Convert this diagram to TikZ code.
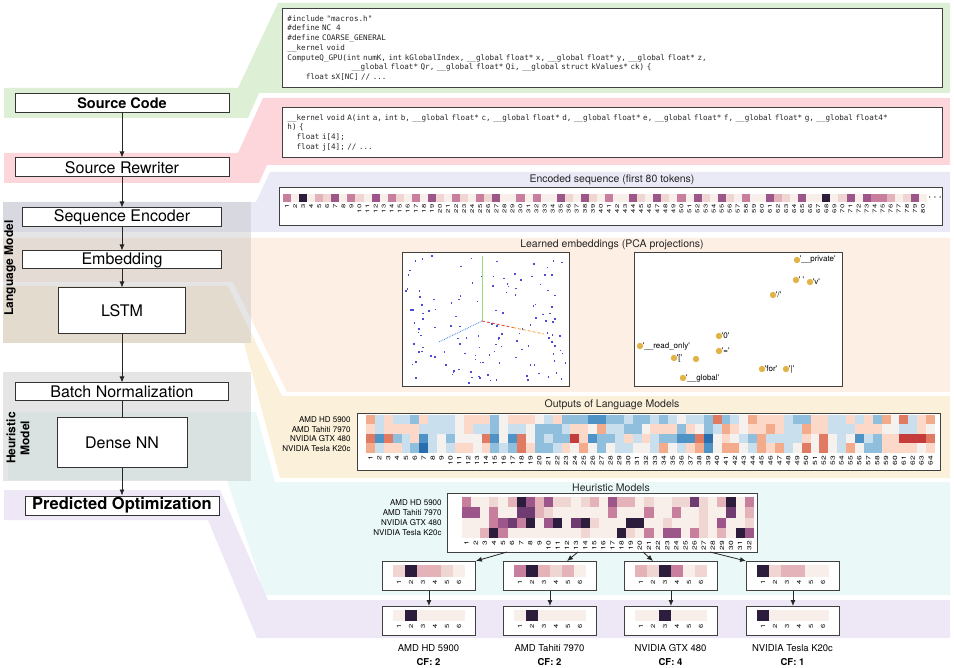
\documentclass[tikz,border=0pt]{standalone}
\usepackage{fontspec}
\setmainfont{TeX Gyre Heros}
\setmonofont{DejaVu Sans Mono}
\usetikzlibrary{arrows.meta}

\definecolor{bandgreen}{HTML}{DDEFD5}
\definecolor{bandpink}{HTML}{FCD6DB}
\definecolor{bandlav}{HTML}{EAE9F6}
\definecolor{bandpeach}{HTML}{FDEFE3}
\definecolor{bandtan}{HTML}{FBF0D9}
\definecolor{bandcyan}{HTML}{EBF8F8}
\definecolor{bandpurple}{HTML}{EDE7F6}
\definecolor{pu0}{HTML}{F8EEEA}
\definecolor{pu1}{HTML}{EFD6D3}
\definecolor{pu2}{HTML}{E4B3B9}
\definecolor{pu3}{HTML}{C87F9D}
\definecolor{pu4}{HTML}{9C5689}
\definecolor{pu5}{HTML}{6E3C71}
\definecolor{pu6}{HTML}{2C1D3C}
\definecolor{rb0}{HTML}{2A6EAE}
\definecolor{rb1}{HTML}{4F93C6}
\definecolor{rb2}{HTML}{8FBFDD}
\definecolor{rb3}{HTML}{C9DFED}
\definecolor{rb4}{HTML}{F4F1EF}
\definecolor{rb5}{HTML}{FBD8C7}
\definecolor{rb6}{HTML}{F4AB8C}
\definecolor{rb7}{HTML}{E07A63}
\definecolor{rb8}{HTML}{C43C3C}
\definecolor{dotblue}{HTML}{4B4BD6}
\definecolor{dotorange}{HTML}{E2B346}
\definecolor{axgreen}{HTML}{9BE07A}
\definecolor{axred}{HTML}{E8403A}
\definecolor{axorange}{HTML}{F5A033}
\definecolor{axblue}{HTML}{3C7DE6}

\newcommand\stagefont{\fontsize{16}{18}\selectfont}
\newcommand\titlefont{\fontsize{10.5}{12}\selectfont}
\newcommand\labfont{\fontsize{8}{9}\selectfont}
\newcommand\numfont{\fontsize{6}{7}\selectfont}
\newcommand\tagfont{\fontsize{8}{9}\selectfont}
\newcommand\gpufont{\fontsize{9.5}{11}\selectfont}
\newcommand\codefont{\ttfamily\fontsize{7.6}{9.7}\selectfont}
\newcommand\pcatok[1]{\textquotesingle#1\textquotesingle}
\newlength\cw
\setlength\cw{4.575pt}

\begin{document}
\begin{tikzpicture}
[x=1pt,y=-1pt,thick,%
  >={Latex[length=6pt,width=5pt]},%
  every node/.style={inner sep=0pt},%
  stage/.style={draw=black!80,fill=white,line width=1pt,font=\stagefont},%
  panel/.style={draw=black!75,fill=white,line width=0.9pt,anchor=north west},%
  title/.style={font=\titlefont,text=black!85},%
  rowlab/.style={font=\labfont,anchor=east},%
  num/.style={font=\numfont,rotate=90,xscale=1.4,anchor=east},%
  tag/.style={font=\tagfont,anchor=west},%
  conn/.style={->,line width=0.8pt,black!85}]
\useasboundingbox (0,0) rectangle (954,668);
\fill[white] (0,0) rectangle (954,668);

\fill[bandgreen] (4,88) -- (238,88) -- (278,3) -- (950,3) -- (950,93) -- (259,93) -- (248,118) -- (4,118) -- cycle;
\fill[bandpink] (4,153) -- (238,153) -- (263,98) -- (950,98) -- (950,165) -- (267,165) -- (259,183) -- (4,183) -- cycle;
\fill[bandlav] (3,202) -- (256,202) -- (270,172) -- (950,172) -- (950,232) -- (3,232) -- cycle;
\fill[bandpeach] (3,238) -- (950,238) -- (950,392) -- (287,392) -- (233,282) -- (3,282) -- cycle;
\fill[bandtan] (3,286) -- (228,286) -- (282,396) -- (950,396) -- (950,478) -- (280,478) -- (244,343) -- (3,343) -- cycle;
\fill[bandcyan] (8,412) -- (256,412) -- (275,482) -- (950,482) -- (950,595) -- (265,595) -- (227,480) -- (8,480) -- cycle;
\fill[bandpurple] (4,490) -- (220,490) -- (268,600) -- (950,600) -- (950,638) -- (257,638) -- (208,520) -- (4,520) -- cycle;
\fill[gray!50,fill opacity=0.4] (3,202) rectangle (251,343);
\fill[gray!50,fill opacity=0.4] (3,372) rectangle (251,481);

\node[rotate=90,font=\bfseries\fontsize{12}{13}\selectfont] (lmlab) at (10,268) {Language Model};
\node[rotate=90,align=center,font=\bfseries\fontsize{12}{14}\selectfont] (hmlab) at (18,438) {Heuristic\\Model};

\node[stage,minimum width=214,minimum height=19,font=\bfseries\fontsize{14.5}{16}\selectfont] (src) at (122,103.5) {Source Code};
\node[stage,minimum width=214,minimum height=19] (rew) at (122,167.5) {Source Rewriter};
\node[stage,minimum width=199,minimum height=19] (enc) at (122,217.5) {Sequence Encoder};
\node[stage,minimum width=199,minimum height=18] (emb) at (122,260) {Embedding};
\node[stage,minimum width=127,minimum height=46] (lstm) at (122,311) {LSTM};
\node[stage,minimum width=213,minimum height=18] (bn) at (122,392) {Batch Normalization};
\node[stage,minimum width=130,minimum height=50] (dnn) at (122,443) {Dense NN};
\node[stage,minimum width=194,minimum height=19,font=\bfseries\fontsize{16.5}{18}\selectfont] (pred) at (122,505.5) {Predicted Optimization};
\draw[conn] (src) -- (rew);
\draw[conn] (rew) -- (enc);
\draw[conn] (enc) -- (emb);
\draw[conn] (emb) -- (lstm);
\draw[conn] (lstm) -- (bn);
\draw[line width=0.8pt,black!85] (bn) -- (dnn);
\draw[conn] (dnn) -- (pred);

\node[panel,minimum width=660,minimum height=79,text width=650,inner xsep=5pt,align=left,font=\codefont,text=black!85] (code1) at (282,8)
  {\#include "macros.h"\\
   \#define NC\ \ 4\\
   \#define COARSE\_GENERAL\\
   \_\_kernel void\\
   ComputeQ\_GPU(int numK, int kGlobalIndex, \_\_global float* x, \_\_global float* y, \_\_global float* z,\\
   \hspace*{14\cw}\_\_global float* Qr, \_\_global float* Qi, \_\_global struct kValues* ck) \{\\
   \hspace*{4\cw}float sX[NC] // ...};
\node[panel,minimum width=660,minimum height=50,text width=650,inner xsep=5pt,align=left,font=\codefont,text=black!85] (code2) at (282,107)
  {\_\_kernel void A(int a, int b, \_\_global float* c, \_\_global float* d, \_\_global float* e, \_\_global float* f, \_\_global float* g, \_\_global float4*\\
   h) \{\\
   \hspace*{2\cw}float i[4];\\
   \hspace*{2\cw}float j[4]; // ...};

\node[title] (enctitle) at (612,180) {Encoded sequence (first 80 tokens)};
\node[panel,minimum width=663,minimum height=38] (encbox) at (279,187) {};
\foreach \v [count=\i] in {3,0,6,0,2,1,4,0,3,1,0,4,0,3,1,0,3,0,4,1,0,3,1,0,3,1,4,0,0,3,0,3,0,0,4,1,0,4,1,0,3,0,0,4,1,0,4,1,0,3,0,4,1,0,4,1,0,3,0,0,4,2,1,0,4,0,0,6,0,1,4,0,4,3,3,2,0,1,4,0}{
  \fill[fill=pu\v] ({283+8.05*(\i-1)},194) rectangle ++(8.05,8);
  \node[num,font=\fontsize{5.5}{6}\selectfont] (encn\i) at ({283+8.05*(\i-0.5)},204) {\i};
}
\node[font=\fontsize{13}{13}\selectfont] (encdots) at (935,198) {$\cdots$};

\node[title] (embtitle) at (612,245) {Learned embeddings (PCA projections)};
\node[panel,minimum width=167,minimum height=134] (pcaL) at (402,252) {};
\node[panel,minimum width=208,minimum height=134] (pcaR) at (634,252) {};
\pgfmathsetseed{3}
\foreach \k in {1,...,135}{
  \pgfmathsetmacro\px{405+161*rnd}
  \pgfmathsetmacro\py{255+127*rnd}
  \fill[dotblue] (\px,\py) rectangle ++(1.6,1.6);
}
\coordinate (pcaO) at (482,321);
\coordinate (pcaG) at (482,256);
\coordinate (pcaM) at (513,327.5);
\coordinate (pcaR) at (544,334);
\coordinate (pcaB) at (439,342);
\draw[axgreen,line width=0.6pt] (pcaO) -- (pcaG);
\draw[axred,densely dashed,line width=0.8pt] (pcaO) -- (pcaM);
\draw[axorange,densely dashed,line width=0.8pt] (pcaM) -- (pcaR);
\draw[axblue,densely dotted,line width=0.8pt] (pcaO) -- (pcaB);
\fill[dotorange] (696,359) circle (3.2);
\foreach \x/\y/\t [count=\k] in {797/260/{\pcatok{\_\_private}}, 796/280/{\pcatok{\ }}, 810/282/{\pcatok{v}}, 773/295/{\pcatok{/}}, 719/336/{\pcatok{0}}, 640/346/{\pcatok{\_\_read\_only}}, 719/351/{\pcatok{=}}, 674/358/{\pcatok{[}}, 762/369/{\pcatok{for}}, 786/369/{\pcatok{|}}, 683/378/{\pcatok{\_\_global}}}{
  \fill[dotorange] (\x,\y) circle (3.2);
  \node[tag] (wd\k) at ({\x+2.5},\y) {\t};
}

\node[title] (outtitle) at (612,405) {Outputs of Language Models};
\node[panel,minimum width=583,minimum height=57] (outbox) at (357,413) {};
\foreach \vals [count=\r] in {%
  {6,3,5,3,3,2,5,3,3,3,4,5,5,5,2,4,5,5,5,4,3,5,2,2,2,1,1,2,2,3,2,2,3,2,3,4,3,3,2,7,2,3,4,6,5,5,5,3,2,2,5,5,3,3,5,3,5,2,6,4,7,3,5,6},
  {5,3,5,5,5,5,3,3,3,3,4,5,3,3,2,4,3,3,4,2,2,2,3,5,5,4,6,3,3,2,2,4,5,5,5,2,5,4,2,3,6,5,4,5,5,6,5,3,3,6,5,5,3,3,3,5,5,5,4,4,3,3,5,4},
  {7,1,7,2,3,5,1,3,4,2,4,4,4,7,1,4,1,7,4,2,3,2,2,8,5,1,2,2,3,5,3,5,3,2,2,1,1,7,0,4,5,4,3,2,6,3,3,3,3,5,4,7,4,3,4,1,3,2,5,5,8,8,8,7},
  {6,3,5,5,3,2,0,3,4,3,5,5,4,5,2,3,2,7,5,2,2,3,5,4,6,4,2,4,3,3,4,4,3,6,4,3,5,6,1,4,6,6,4,3,6,5,6,3,4,7,4,7,4,3,6,4,2,2,5,5,5,5,4,5}}{
  \foreach \v [count=\i] in \vals
    \fill[fill=rb\v] ({366+8.89*(\i-1)},{415+9.5*(\r-1)}) rectangle ++(8.89,9.5);
}
\foreach \g [count=\r] in {AMD HD 5900,AMD Tahiti 7970,NVIDIA GTX 480,NVIDIA Tesla K20c}
  \node[rowlab] (og\r) at (351,{410.25+9.5*\r}) {\g};
\foreach \i in {1,...,64}
  \node[num] (on\i) at ({366+8.89*(\i-0.5)},455.5) {\i};

\node[title] (hmtitle) at (611,488) {Heuristic Models};
\node[panel,minimum width=310,minimum height=59] (hm) at (447,493) {};
\foreach \vals [count=\r] in {%
  {3,0,0,1,0,2,6,4,2,4,1,1,0,1,2,0,4,2,2,0,1,0,0,1,1,5,1,0,2,6,0,3},
  {4,4,0,3,0,0,5,5,2,1,0,0,0,0,0,0,3,0,0,0,3,0,0,3,0,0,1,0,0,5,0,2},
  {0,0,0,3,4,5,3,6,0,4,6,0,5,6,1,0,0,0,6,6,0,0,1,0,0,0,1,0,4,0,0,1},
  {0,0,2,6,3,0,0,0,0,0,0,0,0,1,0,0,0,6,1,0,3,0,4,4,0,3,1,0,2,0,6,4}}{
  \foreach \v [count=\i] in \vals
    \fill[fill=pu\v] ({462+9.12*(\i-1)},{497+10.25*(\r-1)}) rectangle ++(9.12,10.25);
}
\foreach \g [count=\r] in {AMD HD 5900,AMD Tahiti 7970,NVIDIA GTX 480,NVIDIA Tesla K20c}
  \node[rowlab] (hg\r) at (442,{491.9+10.25*\r}) {\g};
\foreach \i in {1,...,32}
  \node[num] (hn\i) at ({462+9.12*(\i-0.5)},540.5) {\i};

\foreach \bx/\px/\va/\vb in {a/382/{1,6,2,2,1,0}/{0,6,0,0,0,0}, b/503/{3,6,2,1,2,0}/{0,6,0,0,0,0}, c/624/{2,1,6,3,0,1}/{0,0,6,0,0,0}, d/746/{6,1,2,2,0,0}/{6,0,0,0,0,0}}{
  \node[panel,minimum width=93,minimum height=29] (\bx1) at (\px,561) {};
  \node[panel,minimum width=93,minimum height=29] (\bx2) at (\px,606) {};
  \foreach \v [count=\i] in \va
    \fill[fill=pu\v] ({\px+11+12*(\i-1)},565) rectangle ++(12,12);
  \foreach \v [count=\i] in \vb
    \fill[fill=pu\v] ({\px+11+12*(\i-1)},610) rectangle ++(12,11);
  \foreach \i in {1,...,6}{
    \node[num,xscale=0.9] (\bx top\i) at ({\px+11+12*(\i-0.5)},579.5) {\i};
    \node[num,xscale=0.9] (\bx bot\i) at ({\px+11+12*(\i-0.5)},623.5) {\i};
  }
  \draw[conn] (\bx1) -- (\bx2);
}
\coordinate (hmA) at (507,552);
\coordinate (hmB) at (578,552);
\coordinate (hmC) at (643,552);
\coordinate (hmD) at (710,552);
\coordinate (b1in) at (567,561);
\coordinate (c1in) at (653,561);
\draw[conn] (hmA) -- (a1.north east);
\draw[conn] (hmB) -- (b1in);
\draw[conn] (hmC) -- (c1in);
\draw[conn] (hmD) -- (d1.north west);

\foreach \bx/\px/\gpu/\cf in {a/382/AMD HD 5900/2, b/503/AMD Tahiti 7970/2, c/624/NVIDIA GTX 480/4, d/746/NVIDIA Tesla K20c/1}{
  \node[font=\gpufont] (gpu\bx) at ({\px+46.5},648) {\gpu};
  \node[font=\bfseries\gpufont] (cf\bx) at ({\px+46.5},662) {CF: \cf};
}
\end{tikzpicture}
\end{document}
